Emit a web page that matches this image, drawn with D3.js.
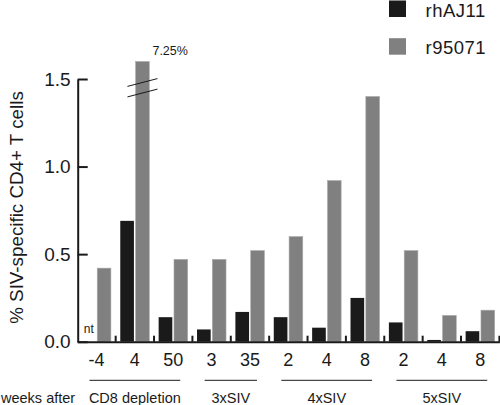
<!DOCTYPE html>
<html><head><meta charset="utf-8">
<script src="https://cdn.jsdelivr.net/npm/d3@7"></script>
<style>body{margin:0;background:#fff}svg{display:block}text{font-family:"Liberation Sans",Arial,Helvetica,sans-serif;fill:#1a1a1a}</style>
</head><body>
<svg id="c" width="500" height="405"></svg>
<script>
const categories = ["-4","4","50","3","35","2","4","8","2","4","8"];
const categoryIds = ["c0","c1","c2","c3","c4","c5","c6","c7","c8","c9","c10"];
const rhAJ11 = [null,0.69,0.14,0.07,0.17,0.14,0.08,0.25,0.11,0.01,0.06];
const r95071 = [0.42,7.25,0.47,0.47,0.52,0.60,0.92,1.40,0.52,0.15,0.18];
const seriesNames = ["rhAJ11","r95071"];
const seriesColors = ["#1a1a1a","#808080"];
const groups = [
  {label:"CD8 depletion", first:0, last:2},
  {label:"3xSIV", first:3, last:4},
  {label:"4xSIV", first:5, last:7},
  {label:"5xSIV", first:8, last:10}
];
const yTicks = [0,0.5,1.0,1.5];
const yLabel = "% SIV-specific CD4+ T cells";
const xPrefix = "weeks after";
const breakLabel = "7.25%";
const displayCap = 1.6;

const svg = d3.select("#c");
const x = d3.scaleBand().domain(categoryIds).range([77.3,499.4]).paddingInner(0).paddingOuter(0);
const xs = d3.scaleBand().domain(seriesNames).range([4.6,33.6]).paddingInner(0.11).paddingOuter(0);
const y = d3.scaleLinear().domain([0,1.5]).range([341.7,79]);

// bars
const data = [];
categoryIds.forEach((c,i)=>{
  [rhAJ11,r95071].forEach((arr,s)=>{
    if(arr[i]!==null) data.push({c,i,s,v:arr[i]});
  });
});
svg.append("g").selectAll("rect").data(data).join("rect")
  .attr("x",d=>x(d.c)+xs(seriesNames[d.s]))
  .attr("width",xs.bandwidth())
  .attr("y",d=>y(Math.min(d.v,displayCap)))
  .attr("height",d=>y(0)-y(Math.min(d.v,displayCap)))
  .attr("fill",d=>seriesColors[d.s])
  .attr("stroke",d=>d.s===1?"#a8a8a8":"none").attr("stroke-width",0.6);

// broken bar marks
data.filter(d=>d.v>displayCap).forEach(d=>{
  const cx = x(d.c)+xs(seriesNames[d.s])+xs.bandwidth()/2;
  [1.48,1.42].forEach(v=>{
    svg.append("line").attr("x1",cx-15).attr("x2",cx+15)
      .attr("y1",y(v)+3.9).attr("y2",y(v)-3.9)
      .attr("stroke","#1a1a1a").attr("stroke-width",1);
  });
  svg.append("text").attr("x",cx+10).attr("y",y(displayCap)-6)
    .attr("font-size",12.5).text(breakLabel);
});

// nt label
rhAJ11.forEach((v,i)=>{
  if(v===null) svg.append("text").attr("x",x(categoryIds[i])+6.5).attr("y",y(0)-8.5)
    .attr("font-size",12).text("nt");
});

// y axis
const yAxis = svg.append("g").attr("transform",`translate(${x.range()[0]+0.4},0)`)
  .call(d3.axisLeft(y).tickValues(yTicks).tickFormat(d3.format(".1f")).tickSize(-10).tickSizeOuter(0).tickPadding(7));
yAxis.select(".domain").attr("stroke","#1a1a1a").attr("stroke-width",2);
yAxis.selectAll(".tick line").attr("stroke","#1a1a1a").attr("stroke-width",2);
yAxis.selectAll("text").attr("font-size",19).attr("font-family","Liberation Sans, Arial, sans-serif").attr("fill","#1a1a1a");

// x axis
const xAxis = svg.append("g").attr("transform",`translate(0,${y(0)})`)
  .call(d3.axisBottom(x).tickFormat((d,i)=>categories[i]).tickSize(0).tickPadding(12));
xAxis.select(".domain").attr("stroke","#1a1a1a").attr("stroke-width",2);
xAxis.selectAll("text").attr("font-size",18).attr("font-family","Liberation Sans, Arial, sans-serif").attr("fill","#1a1a1a");

// boundary ticks
const bounds = categoryIds.slice(1).map(c=>x(c)).concat([x.range()[1]]);
svg.append("g").selectAll("line").data(bounds).join("line")
  .attr("x1",d=>d).attr("x2",d=>d).attr("y1",y(0)).attr("y2",y(0)-6)
  .attr("stroke","#1a1a1a").attr("stroke-width",2);

// y label
svg.append("text").attr("transform","translate(23,207.5) rotate(-90)")
  .attr("text-anchor","middle").attr("font-size",18.8).text(yLabel);

// group underlines and labels
groups.forEach(g=>{
  const x1 = x(categoryIds[g.first])+x.bandwidth()/2-7;
  const x2 = x(categoryIds[g.last])+x.bandwidth()/2+7;
  svg.append("line").attr("x1",x1).attr("x2",x2).attr("y1",380.3).attr("y2",380.3)
    .attr("stroke","#1a1a1a").attr("stroke-width",1);
  svg.append("text").attr("x",(x1+x2)/2).attr("y",402.5).attr("text-anchor","middle")
    .attr("font-size",14.5).text(g.label);
});
svg.append("text").attr("x",1).attr("y",402.5).attr("font-size",14.5).text(xPrefix);

// legend
seriesNames.forEach((n,i)=>{
  svg.append("rect").attr("x",389).attr("y",0.5+i*37.7).attr("width",17).attr("height",16.5)
    .attr("fill",seriesColors[i]);
  svg.append("text").attr("x",425.5).attr("y",16.8+i*37).attr("font-size",18.5)
    .attr("letter-spacing",0.5).text(n);
});
</script>
</body></html>
